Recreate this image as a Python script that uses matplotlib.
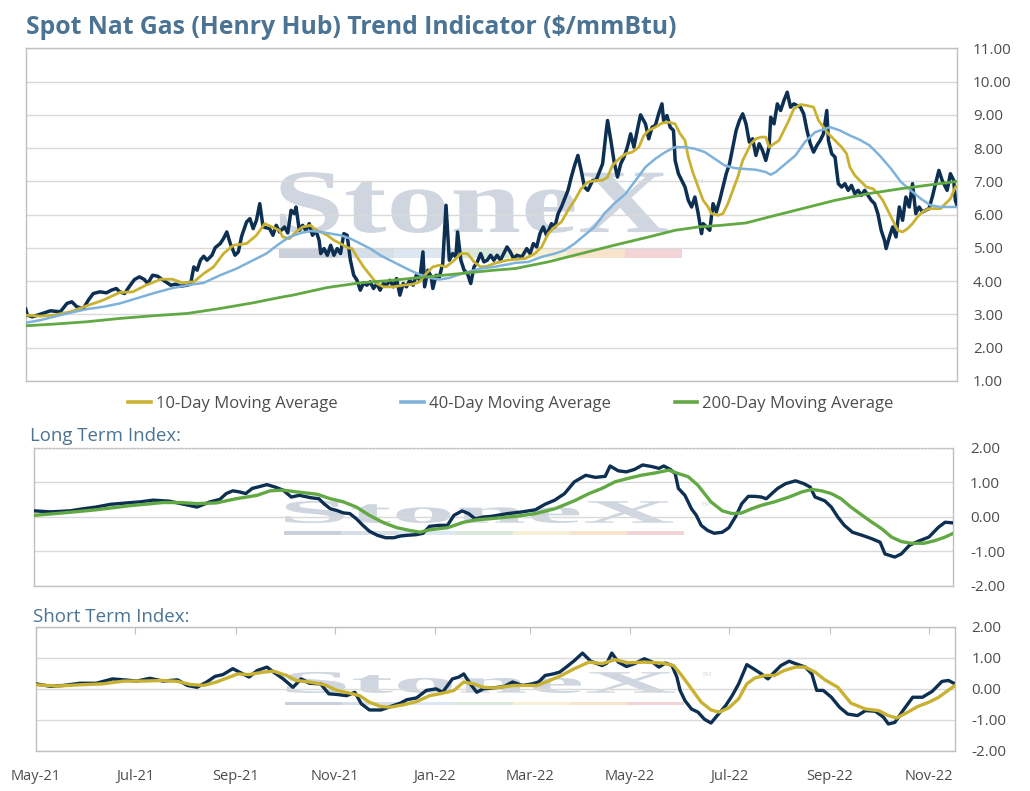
import numpy as np
import pandas as pd
import matplotlib
matplotlib.use('Agg')
from matplotlib import pyplot as plt
import matplotlib.dates as mdates
from matplotlib.textpath import TextPath
from matplotlib.font_manager import FontProperties
from matplotlib.patches import PathPatch, Rectangle
from matplotlib.transforms import Affine2D
from matplotlib.lines import Line2D

plt.rcParams['font.family'] = ['Open Sans', 'DejaVu Sans']
plt.rcParams['axes.unicode_minus'] = False

# data: (days since 2021-05-01, value)
start = pd.Timestamp('2021-05-01')
n_days = 565

price = [(0,3.16),(1,2.98),(4,2.93),(9,3.01),(15,3.11),(21,3.08),(25,3.33),(28,3.38),(31,3.23),(35,3.18),
         (38,3.43),(41,3.63),(45,3.68),(49,3.65),(52,3.73),(55,3.78),(57,3.68),(60,3.63),(63,3.85),(66,4.05),
         (69,4.13),(72,4.05),(74,3.93),(77,4.18),(80,4.15),(82,4.08),(85,3.98),(88,3.88),(91,3.91),(94,3.85),
         (98,3.88),(100,3.91),(102,4.43),(104,4.33),(106,4.63),(108,4.75),(110,4.63),(113,4.78),(115,5.01),
         (118,5.13),(120,5.28),(122,5.48),(124,5.15),(127,4.78),(129,4.88),(131,5.35),(134,5.78),(136,5.88),
         (138,5.58),(140,5.83),(142,6.33),(144,5.63),(148,5.58),(150,5.38),(152,5.68),(154,5.48),(157,5.63),
         (159,5.45),(161,6.13),(163,6.03),(164,6.23),(166,5.53),(168,5.68),(170,5.53),(172,5.73),(174,5.38),
         (176,5.53),(178,5.23),(179,4.83),(181,4.98),(183,4.78),(185,5.08),(187,4.78),(189,4.98),(191,4.83),
         (193,5.43),(195,5.38),(197,4.63),(199,4.18),(201,4.03),(203,3.73),(205,3.95),(207,3.88),(209,3.98),
         (211,3.78),(213,3.93),(215,3.73),(217,3.93),(219,3.88),(221,4.03),(223,3.83),(225,4.08),(227,3.58),
         (229,3.93),(231,3.83),(233,4.03),(235,3.88),(237,4.18),(239,4.03),(241,4.88),(242,3.83),(244,4.33),
         (246,4.13),(247,3.78),(249,4.18),(251,4.13),(253,4.53),(255,6.28),(257,4.63),(259,4.83),(261,4.73),
         (262,5.48),(264,4.63),(266,4.33),(268,4.23),(270,3.93),(272,4.43),(274,4.58),(276,4.83),(278,4.58),
         (280,4.63),(282,4.78),(284,4.63),(286,4.78),(288,4.63),(290,4.83),(292,5.03),(294,4.88),(296,4.68),
         (298,4.78),(301,4.73),(304,4.98),(306,4.83),(308,5.13),(310,5.03),(312,5.43),(314,5.63),(316,5.38),
         (319,5.73),(321,5.63),(323,6.03),(325,6.23),(327,6.48),(329,6.73),(331,7.13),(333,7.48),(335,7.78),
         (337,7.33),(339,6.83),(341,6.73),(344,7.03),(346,7.03),(348,7.28),(350,7.53),(352,8.43),(353,8.83),
         (355,8.23),(357,7.58),(359,7.13),(361,7.53),(363,7.73),(365,8.03),(367,8.43),(369,8.03),(371,8.53),
         (373,9.00),(376,8.73),(378,8.28),(380,8.63),(382,8.68),(384,9.03),(386,9.33),(387,8.83),(389,8.98),
         (391,8.63),(393,8.53),(394,7.63),(396,7.23),(398,7.03),(400,6.83),(402,6.43),(404,6.23),(406,6.53),
         (408,6.03),(410,5.43),(411,5.73),(413,5.63),(415,5.53),(417,6.33),(419,6.08),(421,6.43),(423,6.83),
         (425,7.23),(427,7.53),(429,8.03),(431,8.53),(433,8.83),(435,9.03),(437,8.73),(439,8.18),(441,8.28),
         (443,7.78),(445,8.13),(447,7.93),(449,7.63),(451,8.03),(452,8.93),(454,8.73),(456,9.33),(458,9.13),
         (460,9.43),(462,9.68),(464,9.23),(466,9.33),(468,9.28),(470,9.23),(472,9.03),(474,8.53),(476,8.13),
         (478,7.88),(480,8.08),(482,8.23),(484,8.43),(486,9.13),(487,8.23),(489,7.83),(491,7.73),(493,6.93),
         (495,6.83),(497,6.93),(499,6.73),(501,6.88),(503,6.63),(505,6.73),(507,6.58),(509,6.73),(511,6.58),
         (513,6.43),(515,6.33),(517,6.03),(519,5.53),(521,5.23),(522,4.98),(524,5.33),(526,5.63),(528,5.33),
         (530,6.23),(532,5.83),(534,6.53),(536,6.23),(538,6.93),(540,6.03),(542,6.23),(544,6.08),(546,6.13),
         (548,6.18),(550,6.53),(552,6.93),(554,7.33),(556,7.03),(559,6.73),(561,7.23),(563,7.03),(564,6.43),
         (565,6.28)]

ma10 = [(0,2.98),(9,2.95),(17,2.98),(27,3.08),(37,3.26),(47,3.43),(57,3.66),(65,3.68),(73,3.88),(82,4.06),
        (89,4.06),(95,3.95),(102,3.98),(108,4.23),(114,4.43),(120,4.83),(126,5.08),(134,5.13),(140,5.38),
        (145,5.73),(150,5.62),(154,5.52),(156,5.33),(160,5.28),(164,5.48),(168,5.63),(173,5.68),(176,5.53),
        (179,5.48),(183,5.38),(187,5.23),(191,5.13),(195,5.01),(198,4.98),(201,4.73),(205,4.43),(209,4.18),
        (213,3.93),(217,3.83),(223,3.83),(229,3.88),(235,3.91),(239,3.98),(243,4.23),(247,4.43),(251,4.48),
        (255,4.43),(260,4.63),(264,4.83),(268,4.83),(272,4.58),(276,4.43),(280,4.45),(284,4.53),(288,4.58),
        (292,4.63),(296,4.65),(303,4.68),(309,4.83),(313,5.03),(317,5.43),(321,5.63),(325,5.78),(329,6.13),
        (333,6.43),(337,6.78),(341,6.98),(346,7.03),(350,7.03),(353,7.13),(356,7.48),(360,7.68),(364,7.83),
        (368,7.88),(372,8.03),(375,8.38),(378,8.53),(382,8.63),(386,8.75),(390,8.78),(394,8.73),(397,8.43),
        (400,8.23),(402,7.73),(405,7.23),(408,6.83),(411,6.43),(414,6.23),(416,6.03),(420,5.98),(423,6.03),
        (426,6.33),(429,6.73),(432,7.13),(435,7.63),(437,7.83),(440,8.13),(443,8.28),(446,8.33),(449,8.33),
        (451,8.03),(454,8.13),(457,8.23),(460,8.53),(463,8.83),(466,9.18),(470,9.31),(474,9.28),(478,9.23),
        (481,8.83),(484,8.63),(487,8.43),(491,8.23),(495,8.03),(498,7.83),(500,7.43),(503,7.18),(506,7.03),
        (510,6.83),(514,6.78),(517,6.63),(520,6.43),(523,6.13),(526,5.83),(529,5.53),(532,5.48),(535,5.58),
        (538,5.73),(541,5.93),(544,6.08),(548,6.18),(552,6.18),(555,6.18),(558,6.33),(561,6.48),(564,6.83),
        (565,6.85)]

ma40 = [(0,2.75),(9,2.83),(17,2.93),(27,3.05),(37,3.16),(47,3.23),(57,3.33),(67,3.48),(77,3.63),(88,3.78),
        (98,3.88),(108,3.95),(118,4.18),(128,4.38),(138,4.63),(146,4.83),(154,5.13),(160,5.33),(167,5.45),
        (173,5.51),(179,5.48),(185,5.43),(191,5.38),(197,5.28),(203,5.13),(209,4.98),(215,4.78),(221,4.63),
        (227,4.48),(233,4.33),(239,4.20),(245,4.10),(251,4.05),(257,4.10),(263,4.20),(270,4.30),(276,4.38),
        (284,4.43),(292,4.50),(297,4.55),(305,4.58),(313,4.73),(321,4.83),(327,4.93),(333,5.13),(339,5.38),
        (345,5.63),(351,6.03),(357,6.33),(364,6.63),(370,7.03),(376,7.43),(382,7.68),(388,7.88),(394,8.03),
        (400,8.03),(406,7.98),(412,7.88),(418,7.68),(424,7.48),(430,7.40),(437,7.37),(443,7.35),(449,7.28),
        (452,7.20),(455,7.28),(461,7.53),(467,7.78),(473,8.20),(479,8.48),(485,8.58),(488,8.63),(494,8.53),
        (500,8.38),(506,8.25),(512,8.08),(518,7.78),(525,7.38),(531,6.98),(537,6.73),(543,6.48),(549,6.28),
        (555,6.23),(561,6.23),(565,6.23)]

ma200 = [(0,2.66),(17,2.71),(37,2.78),(57,2.88),(77,2.96),(98,3.03),(118,3.18),(138,3.35),(154,3.51),
         (162,3.58),(183,3.81),(203,3.95),(223,4.03),(243,4.13),(264,4.23),(284,4.33),(297,4.38),(317,4.58),
         (337,4.83),(357,5.08),(378,5.33),(394,5.53),(408,5.63),(422,5.68),(437,5.75),(451,5.93),(471,6.18),
         (491,6.43),(511,6.63),(531,6.78),(551,6.91),(565,7.00)]

long_idx = [(0,0.17),(10,0.14),(22,0.17),(30,0.23),(38,0.28),(47,0.36),(57,0.40),(65,0.43),(73,0.48),(83,0.45),
            (92,0.36),(100,0.28),(108,0.43),(114,0.50),(118,0.67),(122,0.75),(126,0.72),(130,0.67),(134,0.82),
            (139,0.88),(143,0.93),(148,0.86),(153,0.77),(158,0.57),(163,0.62),(170,0.55),(175,0.52),(178,0.38),
            (182,0.23),(186,0.18),(190,0.11),(194,0.09),(198,-0.06),(202,-0.25),(206,-0.42),(211,-0.54),
            (216,-0.61),(221,-0.61),(225,-0.56),(229,-0.54),(235,-0.52),(239,-0.48),(243,-0.28),(249,-0.25),
            (254,-0.25),(258,0.04),(263,0.17),(267,0.09),(271,-0.06),(276,-0.01),(281,0.01),(291,0.09),
            (300,0.14),(308,0.20),(314,0.36),(320,0.48),(326,0.67),(332,1.01),(339,1.20),(345,1.14),(351,1.17),
            (354,1.47),(359,1.33),(364,1.30),(369,1.37),(374,1.50),(380,1.45),(384,1.40),(387,1.47),(391,1.37),
            (394,1.25),(396,0.82),(400,0.62),(404,0.23),(407,0.04),(410,-0.25),(414,-0.40),(418,-0.48),
            (423,-0.45),(427,-0.32),(431,-0.01),(435,0.38),(439,0.59),(443,0.59),(447,0.57),(450,0.52),
            (453,0.65),(457,0.82),(462,0.96),(468,1.04),(473,0.96),(477,0.86),(480,0.57),(486,0.46),(490,0.28),
            (494,-0.01),(498,-0.25),(503,-0.45),(509,-0.54),(515,-0.64),(520,-0.74),(523,-1.08),(529,-1.17),
            (533,-1.08),(538,-0.83),(543,-0.72),(550,-0.59),(556,-0.30),(560,-0.16),(565,-0.18)]

long_avg = [(0,0.04),(18,0.11),(38,0.20),(59,0.32),(79,0.41),(90,0.41),(100,0.38),(112,0.40),(124,0.52),
            (137,0.62),(145,0.75),(153,0.77),(161,0.72),(174,0.65),(182,0.52),(190,0.43),(198,0.28),(206,0.04),
            (215,-0.18),(223,-0.32),(231,-0.40),(237,-0.45),(243,-0.38),(254,-0.32),(264,-0.16),(272,-0.09),
            (280,-0.06),(296,0.01),(308,0.09),(320,0.23),(332,0.46),(341,0.67),(349,0.82),(357,1.01),(365,1.11),
            (373,1.20),(382,1.27),(390,1.35),(396,1.25),(402,1.16),(408,0.91),(412,0.67),(416,0.43),(423,0.17),
            (429,0.09),(435,0.11),(441,0.23),(447,0.33),(455,0.43),(464,0.57),(472,0.72),(478,0.79),(484,0.75),
            (490,0.67),(496,0.52),(502,0.28),(509,0.04),(515,-0.16),(521,-0.35),(527,-0.59),(533,-0.72),
            (539,-0.77),(547,-0.77),(554,-0.69),(560,-0.59),(565,-0.48)]

short_idx = [(0,0.16),(9,0.08),(17,0.11),(27,0.18),(37,0.18),(47,0.32),(54,0.29),(62,0.25),(70,0.34),(78,0.25),
             (87,0.29),(93,0.11),(99,0.05),(105,0.22),(110,0.40),(115,0.46),(121,0.65),(125,0.54),(131,0.38),
             (136,0.59),(142,0.70),(146,0.54),(152,0.32),(158,0.05),(163,0.32),(168,0.18),(175,0.16),
             (180,-0.16),(185,-0.18),(191,-0.22),(196,-0.11),(200,-0.48),(205,-0.68),(212,-0.68),(218,-0.57),
             (224,-0.46),(228,-0.35),(234,-0.29),(240,-0.05),(246,0.00),(250,-0.11),(256,0.32),(260,0.38),
             (263,0.48),(267,0.16),(271,-0.11),(275,0.00),(280,0.02),(288,0.08),(293,0.22),(299,0.11),
             (305,0.16),(309,0.22),(313,0.43),(318,0.48),(322,0.54),(326,0.70),(331,0.91),(336,1.15),(341,0.89),
             (344,0.83),(348,0.75),(351,0.83),(354,1.15),(358,0.86),(363,0.72),(368,0.81),(374,0.97),(379,0.86),
             (383,0.70),(387,0.83),(391,0.75),(394,0.38),(396,-0.05),(399,-0.38),(403,-0.65),(407,-0.75),
             (411,-0.98),(415,-1.10),(418,-0.91),(424,-0.54),(428,-0.22),(432,0.16),(437,0.78),(441,0.65),
             (446,0.48),(450,0.32),(454,0.54),(458,0.75),(463,0.89),(467,0.81),(473,0.70),(477,0.48),
             (480,-0.05),(484,-0.05),(489,-0.27),(494,-0.59),(499,-0.81),(505,-0.86),(510,-0.70),(516,-0.72),
             (521,-0.91),(524,-1.13),(528,-1.08),(533,-0.70),(539,-0.27),(545,-0.27),(551,-0.08),(557,0.24),
             (561,0.27),(565,0.16)]

short_avg = [(0,0.13),(13,0.09),(27,0.13),(41,0.16),(54,0.25),(66,0.25),(78,0.27),(87,0.24),(95,0.14),
             (103,0.11),(111,0.22),(119,0.38),(124,0.48),(131,0.46),(140,0.54),(146,0.57),(154,0.43),(160,0.27),
             (168,0.22),(177,0.14),(185,-0.05),(193,-0.14),(199,-0.22),(205,-0.43),(212,-0.57),(218,-0.59),
             (226,-0.51),(234,-0.41),(242,-0.22),(250,-0.14),(257,-0.05),(263,0.22),(269,0.16),(275,0.05),
             (282,0.03),(294,0.11),(308,0.11),(315,0.25),(323,0.43),(331,0.65),(340,0.86),(348,0.81),(356,0.94),
             (364,0.84),(374,0.86),(385,0.83),(392,0.75),(397,0.43),(403,0.00),(409,-0.43),(415,-0.68),
             (420,-0.75),(426,-0.61),(432,-0.32),(437,0.16),(442,0.35),(448,0.43),(454,0.43),(460,0.59),
             (467,0.70),(473,0.70),(479,0.54),(485,0.29),(493,0.05),(501,-0.46),(510,-0.65),(518,-0.70),
             (524,-0.86),(529,-0.94),(536,-0.75),(542,-0.57),(549,-0.43),(555,-0.27),(560,-0.08),(565,0.11)]

legend_labels = ['10-Day Moving Average', '40-Day Moving Average', '200-Day Moving Average']
title = 'Spot Nat Gas (Henry Hub) Trend Indicator ($/mmBtu)'

navy = '#0c2f52'
gold = '#c9b132'
blue = '#7fb2da'
green = '#62a843'
head = '#4b7393'
grey_txt = '#4d4d4d'
wm = '#cfd6df'
bar_cols = ['#c9d0d9', '#d6dee8', '#dce7f1', '#d9e8da', '#f6f1d6', '#f8e4cd', '#f2d3d6']


def xy(pairs):
    d = np.array([p[0] for p in pairs])
    v = np.array([p[1] for p in pairs])
    return start + pd.to_timedelta(d, unit='D'), v


def watermark(ax, tbox, bbox, tm):
    tp = TextPath((0, 0), 'StoneX', size=1,
                  prop=FontProperties(family='Liberation Serif', weight='bold'))
    e = tp.get_extents()
    tr = (Affine2D().translate(-e.x0, -e.y0)
          .scale((tbox[1]-tbox[0])/e.width, (tbox[3]-tbox[2])/e.height)
          .translate(tbox[0], tbox[2]) + ax.transAxes)
    ax.add_patch(PathPatch(tp, transform=tr, fc=wm, ec='none', zorder=0.2))
    w = (bbox[1]-bbox[0])/len(bar_cols)
    for i, c in enumerate(bar_cols):
        ax.add_patch(Rectangle((bbox[0]+i*w, bbox[2]), w, bbox[3]-bbox[2],
                               transform=ax.transAxes, fc=c, ec='none', zorder=0.2))
    ax.text(tm[0], tm[1], 'TM', transform=ax.transAxes, fontsize=5, color=wm,
            family='Liberation Serif', zorder=0.2)


def style(ax, lo, hi, step, pad):
    ax.set_xlim(start, start + pd.Timedelta(days=n_days))
    ax.set_ylim(lo, hi)
    ax.set_yticks(np.arange(lo, hi + step/2, step))
    ax.yaxis.set_major_formatter(matplotlib.ticker.FormatStrFormatter('%.2f'))
    ax.yaxis.tick_right()
    ax.tick_params(axis='y', length=0, pad=pad, labelsize=11, labelcolor=grey_txt)
    ax.grid(axis='y', color='#d9d9d9', lw=1)
    ax.set_axisbelow(True)
    for s in ax.spines.values():
        s.set_color('#bfbfbf')
        s.set_linewidth(1)


def fit_width(t, px):
    # scale a text's font size so it spans the width seen in the picture
    r = fig.canvas.get_renderer()
    w = t.get_window_extent(r).width
    t.set_fontsize(t.get_fontsize() * px / w)


fig = plt.figure(figsize=(10.3, 7.91), dpi=100)

# top panel
ax1 = fig.add_axes([25.7/1030, 1-381/791, 931.3/1030, 332.7/791])
style(ax1, 1, 11, 1, 11.5)
ax1.tick_params(axis='x', bottom=False, labelbottom=False)
watermark(ax1, (0.273, 0.690, 0.445, 0.628), (0.272, 0.705, 0.370, 0.400), (0.717, 0.595))
ax1.plot(*xy(price), color=navy, lw=2.5, zorder=3)
ax1.plot(*xy(ma10), color=gold, lw=2.0, zorder=3)
ax1.plot(*xy(ma40), color=blue, lw=1.8, zorder=3)
ax1.plot(*xy(ma200), color=green, lw=2.0, zorder=3)

t_title = fig.text(26/1030, 1-34.3/791, title, fontsize=17, fontweight='bold', color=head,
                   ha='left', va='baseline')

handles = [Line2D([], [], color=c, lw=2.6) for c in (gold, blue, green)]
fig.legend(handles, legend_labels, loc='center', bbox_to_anchor=(511/1030, 1-404/791),
           ncol=3, frameon=False, fontsize=12, handlelength=1.35, handletextpad=0.3,
           columnspacing=3.85, labelcolor=grey_txt)

# long term
ax2 = fig.add_axes([34.3/1030, 1-585.7/791, 919/1030, 138/791])
style(ax2, -2, 2, 1, 12)
ax2.spines['top'].set_linestyle(':')
ax2.tick_params(axis='x', bottom=False, labelbottom=False)
watermark(ax2, (0.273, 0.695, 0.454, 0.614), (0.272, 0.707, 0.367, 0.396), (0.725, 0.58))
ax2.plot(*xy(long_idx), color=navy, lw=2.4, zorder=3)
ax2.plot(*xy(long_avg), color=green, lw=2.4, zorder=3)
t_long = fig.text(30/1030, 1-441.5/791, 'Long Term Index:', fontsize=12, color=head, va='baseline')

# short term
ax3 = fig.add_axes([36/1030, 1-751/791, 919/1030, 124.3/791])
style(ax3, -2, 2, 1, 12)
watermark(ax3, (0.273, 0.695, 0.467, 0.636), (0.271, 0.705, 0.370, 0.398), (0.725, 0.60))
ax3.plot(*xy(short_idx), color=navy, lw=2.4, zorder=3)
ax3.plot(*xy(short_avg), color=gold, lw=2.4, zorder=3)
t_short = fig.text(33/1030, 1-621.5/791, 'Short Term Index:', fontsize=12, color=head, va='baseline')

ax3.xaxis.set_major_locator(mdates.MonthLocator(bymonth=[1, 3, 5, 7, 9, 11]))
ax3.xaxis.set_major_formatter(mdates.DateFormatter('%b-%y'))
ax3.tick_params(axis='x', bottom=False, top=True, direction='in', length=5,
                color='#bfbfbf', labelbottom=True, labeltop=False,
                labelsize=10.5, labelcolor=grey_txt, pad=13)

fit_width(t_title, 651)
fit_width(t_long, 151)
fit_width(t_short, 156)

fig.savefig('out.png', dpi=100)
